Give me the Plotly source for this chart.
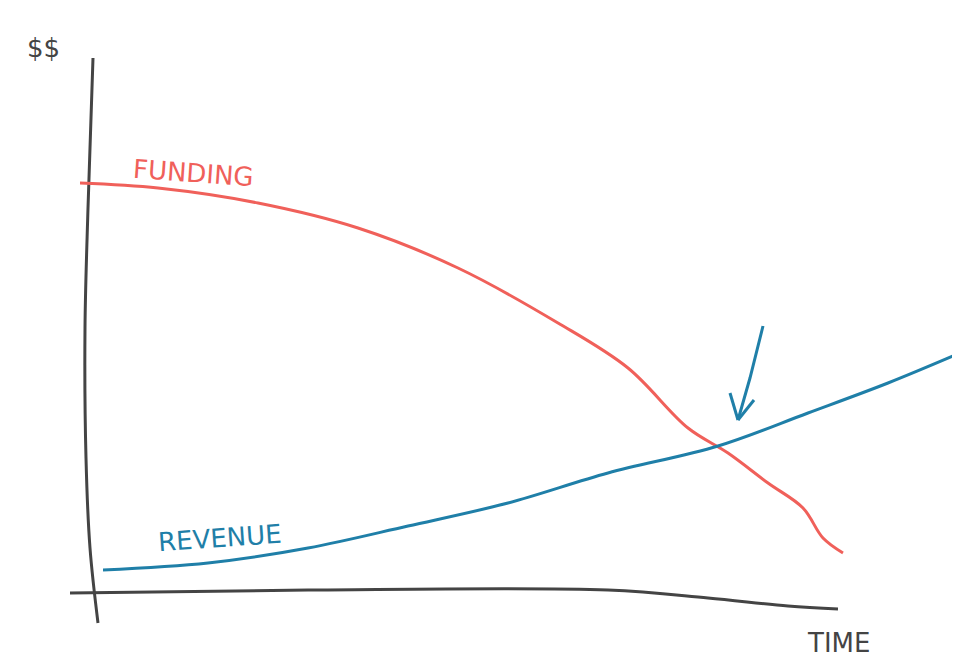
import plotly.graph_objects as go

funding_x = [72, 150, 250, 350, 450, 550, 620, 680, 720, 760, 795, 815, 835]
funding_y = [175, 180, 195, 220, 260, 315, 360, 420, 445, 475, 500, 530, 545]
revenue_x = [95, 200, 300, 400, 500, 600, 710, 800, 880, 945]
revenue_y = [562, 555, 540, 518, 495, 465, 438, 405, 375, 348]
yaxis_x = [85, 80, 77, 78, 82, 90]
yaxis_y = [50, 200, 320, 450, 540, 615]
xaxis_x = [62, 300, 600, 700, 780, 830]
xaxis_y = [585, 582, 582, 590, 598, 601]
arrow_x = [755, 742, 730, None, 730, 722, None, 730, 746]
arrow_y = [318, 370, 412, None, 412, 385, None, 412, 392]

RED = "#f0605a"
BLUE = "#1f7fa8"
GRAY = "#444444"

fig = go.Figure()
fig.add_trace(go.Scatter(x=yaxis_x, y=yaxis_y, mode="lines", line=dict(color=GRAY, width=3, shape="spline")))
fig.add_trace(go.Scatter(x=xaxis_x, y=xaxis_y, mode="lines", line=dict(color=GRAY, width=3, shape="spline")))
fig.add_trace(go.Scatter(x=funding_x, y=funding_y, mode="lines", line=dict(color=RED, width=3, shape="spline")))
fig.add_trace(go.Scatter(x=revenue_x, y=revenue_y, mode="lines", line=dict(color=BLUE, width=3, shape="spline")))
fig.add_trace(go.Scatter(x=arrow_x, y=arrow_y, mode="lines", line=dict(color=BLUE, width=3)))

labels = [("FUNDING", 185, 165, RED, 4), ("REVENUE", 212, 530, BLUE, -4), ("$$", 35, 40, GRAY, 0), ("TIME", 830, 635, GRAY, 0)]
for t, x, y, c, a in labels:
    fig.add_annotation(x=x, y=y, text=t, showarrow=False, textangle=a,
                       font=dict(family="DejaVu Sans", size=26, color=c))

fig.update_layout(width=960, height=658, margin=dict(l=0, r=0, t=0, b=0),
                  plot_bgcolor="white", paper_bgcolor="white", showlegend=False,
                  xaxis=dict(range=[0, 960], visible=False),
                  yaxis=dict(range=[658, 0], visible=False))
fig.write_html("out.html")
